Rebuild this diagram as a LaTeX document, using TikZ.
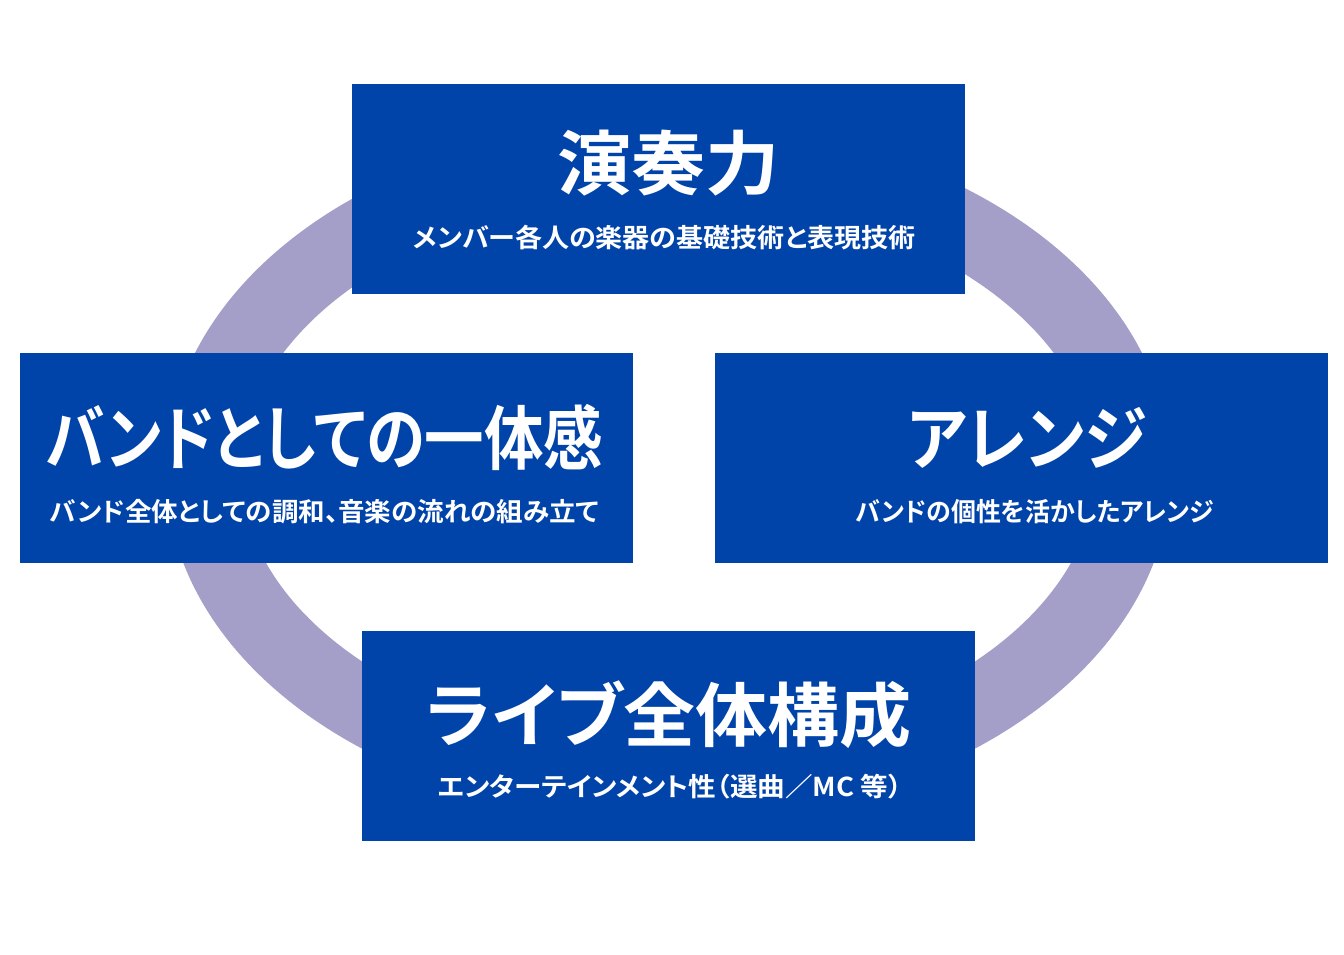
\documentclass[tikz,border=0pt]{standalone}
\usepackage{fontspec}
\newfontfamily\jpb[RawFeature=+palt]{Noto Sans CJK JP Bold}
\definecolor{boxblue}{HTML}{0043A9}
\definecolor{ringc}{HTML}{A39FC8}
\tikzset{
  ring/.style={draw=ringc, line width=75pt},
  box/.style={rectangle, fill=boxblue, draw=none, inner sep=0pt, outer sep=0pt, minimum width=613pt, minimum height=210pt},
  title/.style={text=white, font=\jpb\fontsize{70}{80}\selectfont, inner sep=0pt},
  sub/.style={text=white, font=\jpb\fontsize{26}{30}\selectfont, inner sep=0pt}
}
\begin{document}
\begin{tikzpicture}[x=1pt,y=-1pt]
\useasboundingbox (0,0) rectangle (1344,954);
\draw[ring] (668.5,471) ellipse [x radius=465, y radius=312];
\node[box] (top) at (658.5,189) {};
\node[box] (left) at (326.5,457.5) {};
\node[box] (right) at (1021,457.5) {};
\node[box] (bottom) at (668,736) {};
\path (top.north) ++(10,79) node[title, xscale=1.06] (ttop) {演奏力};
\path (top.north) ++(6,154) node[sub, xscale=1.04] (stop) {メンバー各人の楽器の基礎技術と表現技術};
\path (left.north) ++(-2,85) node[title, xscale=0.85] (tleft) {バンドとしての一体感};
\path (left.north) ++(-2,159) node[sub, xscale=1.02] (sleft) {バンド全体としての調和、音楽の流れの組み立て};
\path (right.north) ++(6,85) node[title, xscale=0.91] (tright) {アレンジ};
\path (right.north) ++(14,159) node[sub, xscale=0.96] (sright) {バンドの個性を活かしたアレンジ};
\path (bottom.north) ++(1,84) node[title, xscale=1.03] (tbottom) {ライブ全体構成};
\path (bottom.north) ++(2,156) node[sub, xscale=1.06] (sbottom) {エンターテインメント性（選曲／MC 等）};
\end{tikzpicture}
\end{document}
